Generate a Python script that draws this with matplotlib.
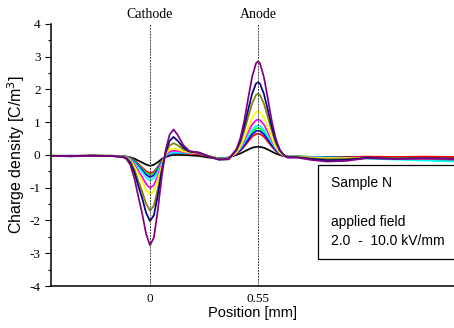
import matplotlib
matplotlib.use("Agg")
import matplotlib.pyplot as plt
from matplotlib.patches import Rectangle
from matplotlib.ticker import MultipleLocator

plt.rcParams["axes.unicode_minus"] = False

# position grid [mm]
position = [-0.50, -0.40, -0.30, -0.20,
            -0.14, -0.12, -0.10, -0.08, -0.06, -0.04, -0.02, 0.00, 0.02, 0.04, 0.06,
            0.08, 0.10, 0.12, 0.14, 0.17, 0.20, 0.25, 0.30, 0.35, 0.40,
            0.44, 0.46, 0.48, 0.50, 0.52, 0.54, 0.55, 0.56, 0.58, 0.60,
            0.62, 0.64, 0.66, 0.68, 0.70,
            0.75, 0.82, 0.90, 1.00, 1.10, 1.25, 1.40, 1.55]

# charge density [C/m^3], one profile per applied field (low -> high)
rho_black = [-0.03, -0.03, -0.02, -0.03,
             -0.04, -0.05, -0.07, -0.11, -0.17, -0.23, -0.29, -0.33, -0.30, -0.22, -0.12,
             -0.06, -0.02, 0.00, 0.00, 0.00, -0.01, -0.03, -0.08, -0.10, -0.08,
             0.00, 0.045, 0.105, 0.165, 0.22, 0.247, 0.25, 0.247, 0.22, 0.165,
             0.105, 0.045, 0.00, -0.035, -0.057,
             -0.07, -0.08, -0.08, -0.07, -0.06, -0.08, -0.07, -0.08]
rho_red = [-0.02, -0.03, -0.02, -0.03,
           -0.04, -0.05, -0.08, -0.16, -0.27, -0.38, -0.49, -0.56, -0.51, -0.36, -0.17,
           -0.02, 0.04, 0.05, 0.05, 0.05, 0.04, 0.02, -0.05, -0.10, -0.08,
           0.03, 0.13, 0.26, 0.41, 0.56, 0.64, 0.65, 0.64, 0.56, 0.41,
           0.26, 0.13, 0.03, -0.02, -0.05,
           -0.05, -0.06, -0.07, -0.06, -0.05, -0.06, -0.05, -0.06]
rho_green = [-0.02, -0.03, -0.02, -0.02,
             -0.04, -0.05, -0.09, -0.18, -0.30, -0.42, -0.55, -0.62, -0.56, -0.40, -0.19,
             -0.03, 0.04, 0.06, 0.07, 0.07, 0.07, 0.05, -0.03, -0.10, -0.09,
             0.06, 0.17, 0.34, 0.53, 0.70, 0.81, 0.82, 0.81, 0.70, 0.53,
             0.34, 0.17, 0.06, -0.01, -0.05,
             -0.04, -0.05, -0.07, -0.08, -0.10, -0.12, -0.15, -0.18]
rho_blue = [-0.03, -0.02, -0.03, -0.02,
            -0.04, -0.06, -0.10, -0.20, -0.33, -0.46, -0.60, -0.68, -0.62, -0.44, -0.20,
            -0.03, 0.03, 0.05, 0.06, 0.07, 0.07, 0.05, -0.04, -0.11, -0.09,
            0.05, 0.15, 0.30, 0.47, 0.63, 0.73, 0.74, 0.73, 0.63, 0.47,
            0.30, 0.15, 0.05, -0.01, -0.05,
            -0.05, -0.06, -0.07, -0.08, -0.08, -0.10, -0.12, -0.13]
rho_cyan = [-0.02, -0.03, -0.02, -0.03,
            -0.05, -0.07, -0.12, -0.23, -0.37, -0.52, -0.69, -0.78, -0.71, -0.50, -0.23,
            -0.02, 0.05, 0.07, 0.07, 0.07, 0.07, 0.05, -0.04, -0.11, -0.10,
            0.07, 0.20, 0.38, 0.58, 0.77, 0.89, 0.90, 0.89, 0.77, 0.58,
            0.38, 0.20, 0.07, 0.00, -0.04,
            -0.05, -0.06, -0.08, -0.09, -0.11, -0.14, -0.17, -0.20]
rho_magenta = [-0.03, -0.03, -0.02, -0.03,
               -0.05, -0.07, -0.14, -0.28, -0.48, -0.67, -0.88, -1.01, -0.92, -0.63, -0.27,
               0.00, 0.10, 0.13, 0.12, 0.09, 0.08, 0.05, -0.04, -0.12, -0.11,
               0.09, 0.24, 0.45, 0.70, 0.93, 1.06, 1.08, 1.06, 0.93, 0.70,
               0.45, 0.24, 0.09, 0.00, -0.05,
               -0.05, -0.07, -0.10, -0.10, -0.09, -0.11, -0.12, -0.14]
rho_yellow = [-0.02, -0.03, -0.02, -0.02,
              -0.05, -0.08, -0.16, -0.33, -0.57, -0.80, -1.06, -1.21, -1.10, -0.75, -0.32,
              0.03, 0.16, 0.20, 0.17, 0.11, 0.08, 0.06, -0.04, -0.12, -0.11,
              0.08, 0.25, 0.51, 0.83, 1.13, 1.31, 1.34, 1.31, 1.13, 0.83,
              0.51, 0.25, 0.08, -0.02, -0.06,
              -0.05, -0.08, -0.10, -0.10, -0.09, -0.10, -0.10, -0.11]
rho_olive = [-0.03, -0.03, -0.02, -0.03,
             -0.05, -0.09, -0.20, -0.44, -0.78, -1.11, -1.48, -1.70, -1.55, -1.04, -0.43,
             0.06, 0.29, 0.36, 0.30, 0.17, 0.10, 0.07, -0.04, -0.13, -0.12,
             0.13, 0.37, 0.73, 1.16, 1.57, 1.83, 1.87, 1.83, 1.57, 1.16,
             0.73, 0.37, 0.13, 0.00, -0.06,
             -0.06, -0.10, -0.13, -0.12, -0.09, -0.10, -0.10, -0.11]
rho_navy = [-0.03, -0.04, -0.02, -0.03,
            -0.06, -0.10, -0.24, -0.52, -0.93, -1.31, -1.76, -2.02, -1.84, -1.23, -0.50,
            0.10, 0.43, 0.55, 0.44, 0.23, 0.11, 0.07, -0.05, -0.14, -0.13,
            0.16, 0.44, 0.87, 1.38, 1.87, 2.18, 2.22, 2.18, 1.87, 1.38,
            0.87, 0.44, 0.16, 0.01, -0.07,
            -0.07, -0.12, -0.16, -0.15, -0.09, -0.11, -0.10, -0.11]
rho_purple = [-0.03, -0.04, -0.02, -0.03,
              -0.06, -0.12, -0.30, -0.70, -1.25, -1.78, -2.40, -2.76, -2.52, -1.68, -0.66,
              0.15, 0.62, 0.78, 0.62, 0.30, 0.12, 0.07, -0.05, -0.14, -0.13,
              0.17, 0.51, 1.04, 1.73, 2.38, 2.80, 2.86, 2.80, 2.38, 1.73,
              1.04, 0.51, 0.17, 0.00, -0.08,
              -0.08, -0.15, -0.20, -0.18, -0.10, -0.12, -0.10, -0.12]

profiles = [rho_black, rho_red, rho_green, rho_blue, rho_cyan,
            rho_magenta, rho_yellow, rho_olive, rho_navy, rho_purple]
colors = ["#000000", "#FF0000", "#00FF00", "#0000FF", "#00FFFF",
          "#FF00FF", "#FFFF00", "#808000", "#000080", "#800080"]

electrode_pos = [0.0, 0.55]
electrode_names = ["Cathode", "Anode"]
xtick_labels = ["0", "0.55"]

fig = plt.figure(figsize=(4.54, 3.28), dpi=100)
ax = fig.add_axes([0.1123, 0.128, 0.8877, 0.799])

for rho, c in zip(profiles, colors):
    ax.plot(position, rho, color=c, lw=1.25, solid_joinstyle="round")

for xp, name in zip(electrode_pos, electrode_names):
    ax.axvline(xp, color="#444444", lw=0.7, ls=(0, (2, 1)))
    ax.text(xp, 4.3, name, ha="center", va="center", fontsize=10,
            family="Liberation Serif")

ax.set_xlim(-0.504, 1.548)
ax.set_ylim(-4, 4)
ax.set_xticks(electrode_pos)
ax.set_xticklabels(xtick_labels)
ax.yaxis.set_major_locator(MultipleLocator(1))
ax.yaxis.set_minor_locator(MultipleLocator(0.5))
ax.tick_params(axis="x", length=0, pad=5)
ax.tick_params(axis="y", which="major", length=4, width=0.8, direction="out")
ax.tick_params(axis="y", which="minor", length=2.5, width=0.8, direction="out")
for lab in ax.get_xticklabels() + ax.get_yticklabels():
    lab.set_family("Liberation Serif")
    lab.set_fontsize(9.5)

ax.spines["top"].set_visible(False)
ax.spines["right"].set_visible(False)
ax.spines["left"].set_linewidth(1.1)
ax.spines["bottom"].set_linewidth(1.1)

ax.set_xlabel("Position [mm]", family="Liberation Sans", fontsize=10.5, labelpad=1)
ax.set_ylabel("Charge density [C/m$^3$]", family="Liberation Sans", fontsize=11.5,
              labelpad=2)

box = Rectangle((0.6625, 0.103), 0.40, 0.359, transform=ax.transAxes,
                facecolor="white", edgecolor="black", lw=0.9, clip_on=False,
                zorder=5)
ax.add_patch(box)
ax.text(0.695, 0.393, "Sample N", transform=ax.transAxes, va="center",
        fontsize=10, family="Liberation Sans", zorder=6)
ax.text(0.695, 0.244, "applied field", transform=ax.transAxes, va="center",
        fontsize=10, family="Liberation Sans", zorder=6)
ax.text(0.695, 0.172, "2.0  -  10.0 kV/mm", transform=ax.transAxes, va="center",
        fontsize=10, family="Liberation Sans", zorder=6)

fig.savefig("out.png", dpi=100)
